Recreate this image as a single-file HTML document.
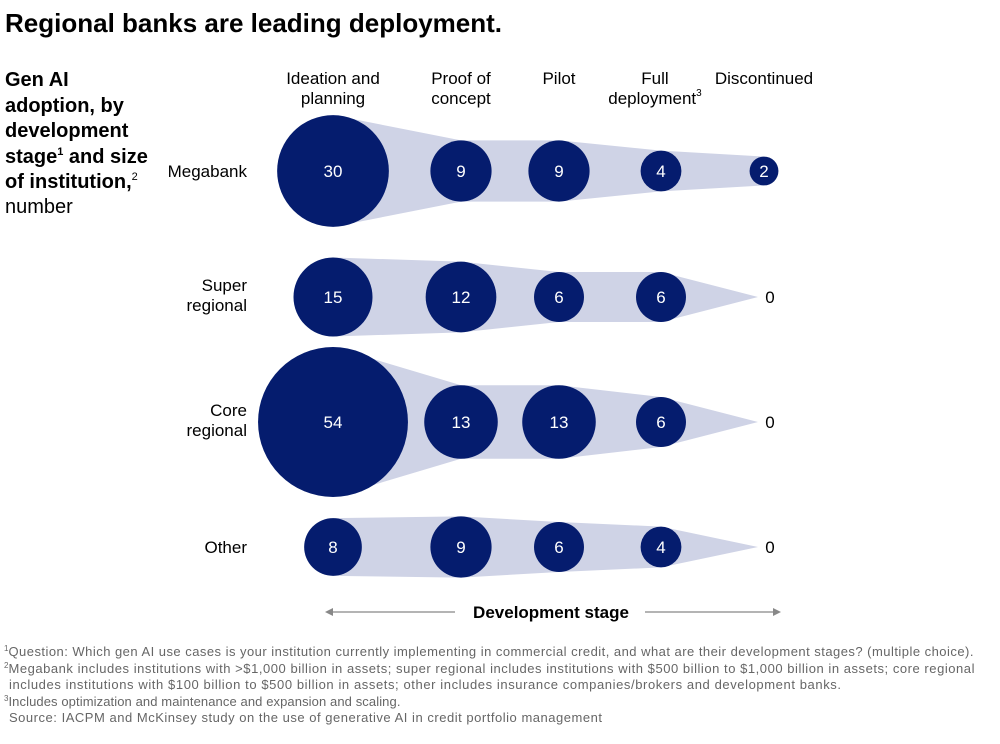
<!DOCTYPE html>
<html><head><meta charset="utf-8"><style>
body{margin:0;background:#fff}
svg{display:block;font-family:"Liberation Sans",sans-serif}
</style></head><body>
<svg id="chart" width="1000" height="744" viewBox="0 0 1000 744">
<text x="5" y="32" font-size="26" font-weight="bold" fill="#000">Regional banks are leading deployment.</text>
<g font-size="20" fill="#000">
<text x="5" y="86" font-weight="bold">Gen AI</text>
<text x="5" y="112" font-weight="bold">adoption, by</text>
<text x="5" y="137" font-weight="bold">development</text>
<text x="5" y="163" font-weight="bold">stage<tspan font-size="11" dy="-8">1</tspan><tspan dy="8"> and size</tspan></text>
<text x="5" y="188" font-weight="bold">of institution,<tspan font-size="11" font-weight="normal" dy="-8">2</tspan></text>
<text x="5" y="213">number</text>
</g>
<g id="cols" font-size="17" fill="#000" text-anchor="middle"></g>
<g id="rowsg" font-size="17" fill="#000" text-anchor="end"></g>
<g id="bands"></g>
<g id="circles"></g>
<g>
<line x1="330" y1="612" x2="455" y2="612" stroke="#888" stroke-width="1.2"/>
<polygon points="325,612 333,608 333,616" fill="#888"/>
<line x1="645" y1="612" x2="775" y2="612" stroke="#888" stroke-width="1.2"/>
<polygon points="781,612 773,608 773,616" fill="#888"/>
<text x="551" y="618" font-size="17" font-weight="bold" text-anchor="middle">Development stage</text>
</g>
<g font-size="13" fill="#666">
<text x="4" y="656"><tspan font-size="8" dy="-5">1</tspan><tspan dy="5" textLength="965">Question: Which gen AI use cases is your institution currently implementing in commercial credit, and what are their development stages? (multiple choice).</tspan></text>
<text x="4" y="673"><tspan font-size="8" dy="-5">2</tspan><tspan dy="5" textLength="966">Megabank includes institutions with &gt;$1,000 billion in assets; super regional includes institutions with $500 billion to $1,000 billion in assets; core regional</tspan></text>
<text x="9" y="689" textLength="832">includes institutions with $100 billion to $500 billion in assets; other includes insurance companies/brokers and development banks.</text>
<text x="4" y="706"><tspan font-size="8" dy="-5">3</tspan><tspan dy="5" textLength="392">Includes optimization and maintenance and expansion and scaling.</tspan></text>
<text x="9" y="722" textLength="593">Source: IACPM and McKinsey study on the use of generative AI in credit portfolio management</text>
</g>
</svg>
<script>
const stages=["Ideation and|planning","Proof of|concept","Pilot","Full|deployment","Discontinued"];
const segments=["Megabank","Super|regional","Core|regional","Other"];
const megabank=[30,9,9,4,2];
const superRegional=[15,12,6,6,0];
const coreRegional=[54,13,13,6,0];
const other=[8,9,6,4,0];
const series=[megabank,superRegional,coreRegional,other];
const NS="http://www.w3.org/2000/svg";
const xPos=i=>333+[0,128,226,328,431][i];
const yPos=j=>[171,297,422,547][j];
const rad=v=>10.2*Math.sqrt(v);
function mk(tag,attrs,parent){const e=document.createElementNS(NS,tag);for(const k in attrs)e.setAttribute(k,attrs[k]);parent.appendChild(e);return e;}
const cols=document.getElementById('cols');
stages.forEach((s,i)=>{const parts=s.split('|');
  const t=mk('text',{x:xPos(i)-(i==3?6:0),y:84},cols);
  
  
  parts.forEach((p,k)=>{const ts=mk('tspan',{x:xPos(i)-(i==3?6:0),dy:k?20:0},t);ts.textContent=p;});
  if(i==3){const sup=mk('tspan',{'font-size':'10',dy:-8},t);sup.textContent='3';}
});
const rowsg=document.getElementById('rowsg');
segments.forEach((s,j)=>{const parts=s.split('|');
  const y0=parts.length>1?yPos(j)-6:yPos(j)+6;
  const t=mk('text',{x:247,y:y0},rowsg);
  
  
  parts.forEach((p,k)=>{const ts=mk('tspan',{x:247,dy:k?20:0},t);ts.textContent=p;});
});
const bands=document.getElementById('bands'),circ=document.getElementById('circles');
series.forEach((vals,j)=>{
  const cy=yPos(j);let top=[],bot=[];
  vals.forEach((v,i)=>{const cx=v>0?xPos(i):xPos(i)-6;const r=rad(v);top.push(cx+','+(cy-r));bot.unshift(cx+','+(cy+r));});
  const p=mk('polygon',{points:top.concat(bot).join(' '),fill:'#cfd3e6'},bands);
  
  
  vals.forEach((v,i)=>{
    if(v>0){const c=mk('circle',{cx:xPos(i),cy:cy,r:rad(v),fill:'#051c6e'},circ);
      
      }
    const t=mk('text',{x:xPos(i)+(v>0?0:6),y:cy+6,'font-size':17,'text-anchor':'middle',fill:v>0?'#fff':'#000'},circ);
    
    
    t.textContent=v;
  });
});
</script>
</body></html>
